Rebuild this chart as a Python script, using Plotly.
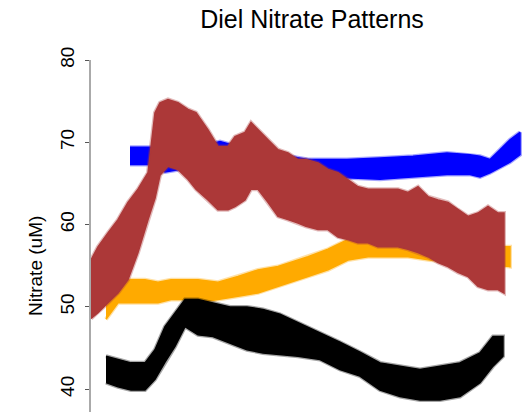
import plotly.graph_objects as go

# time (hours from start of record) and upper/lower envelope of each noisy series (uM)
brown_t = [0, 0.7, 1.7, 2.7, 3.7, 4.7, 5.7, 6.4, 6.9, 7.7, 8.7, 9.7, 10.5, 11.7, 12.7, 13.7,
           14.4, 15.4, 16.0, 16.7, 17.7, 18.7, 19.7, 20.7, 21.5, 22.7, 23.7, 24.7, 25.7, 26.7,
           27.7, 28.7, 29.7, 30.7, 31.7, 32.7, 33.7, 34.7, 35.7, 36.7, 37.7, 38.7, 39.7, 40.7, 41.3]
brown_hi = [55.7, 57.3, 59.0, 60.6, 62.7, 64.3, 66.3, 73.6, 74.8, 75.2, 74.8, 74.0, 73.6, 71.5, 69.5, 69.5,
            70.7, 71.2, 72.4, 71.5, 70.3, 69.1, 68.7, 67.9, 67.9, 67.5, 66.7, 66.3, 65.5, 64.6,
            64.3, 64.3, 64.3, 64.3, 63.9, 64.6, 63.4, 63.0, 62.7, 61.8, 61.0, 61.4, 62.2, 61.4, 61.4]
brown_lo = [48.6, 49.3, 50.5, 51.7, 53.3, 56.6, 60.6, 63.2, 66.0, 67.1, 66.7, 65.5, 64.3, 63.0, 61.8, 61.8,
            62.2, 63.0, 64.3, 64.3, 62.7, 61.0, 60.6, 60.2, 59.8, 59.4, 59.4, 58.5, 58.2, 57.8,
            57.8, 57.3, 57.3, 57.3, 57.0, 56.6, 56.1, 55.4, 54.9, 54.2, 53.7, 52.5, 52.1, 52.1, 51.7]

black_t = [1.5, 2.7, 4.0, 5.4, 6.4, 7.4, 8.4, 9.4, 10.7, 12.2, 13.9, 15.6, 17.2, 18.9, 20.7, 22.9,
           24.9, 26.9, 28.9, 30.9, 32.9, 34.9, 36.9, 38.9, 40.2, 41.2]
black_hi = [44.0, 43.6, 43.2, 43.2, 44.8, 47.6, 49.3, 50.9, 50.9, 50.5, 50.0, 50.0, 49.7, 49.1, 48.1, 46.9,
            45.7, 44.5, 43.2, 42.8, 42.4, 42.8, 43.2, 44.4, 46.4, 46.4]
black_lo = [40.8, 40.3, 39.9, 39.9, 41.2, 43.3, 45.2, 47.6, 46.6, 46.4, 45.6, 44.8, 44.4, 44.2, 44.0, 43.6,
            42.4, 41.6, 39.9, 39.1, 38.7, 38.7, 39.1, 40.8, 42.8, 44.0]

orange_t = [1.5, 2.7, 4.0, 5.4, 6.7, 8.0, 9.7, 10.7, 12.7, 14.7, 16.7, 18.7, 20.7, 21.7, 23.7, 25.7,
            27.7, 29.7, 31.7, 33.9, 36.9, 39.9, 41.9]
orange_hi = [50.9, 53.0, 53.3, 53.3, 53.0, 53.3, 53.3, 53.3, 53.0, 53.7, 54.5, 54.9, 55.7, 56.1, 57.0, 58.2,
             58.2, 58.2, 58.2, 57.8, 57.6, 57.3, 57.3]
orange_lo = [48.5, 50.5, 50.5, 50.5, 50.5, 50.9, 50.9, 50.5, 50.9, 51.3, 51.7, 52.5, 53.3, 53.7, 54.5, 55.7,
             56.1, 56.1, 56.1, 55.7, 55.4, 55.1, 54.9]

blue_t = [3.9, 5.9, 7.4, 9.9, 12.9, 15.9, 18.9, 21.7, 23.9, 25.6, 28.9, 32.2, 35.6, 37.9, 38.9,
          39.9, 40.9, 41.9, 42.9]
blue_hi = [69.4, 69.4, 68.9, 69.1, 70.1, 69.1, 68.5, 67.9, 67.9, 67.9, 68.1, 68.3, 68.7, 68.5, 68.3,
           67.9, 69.1, 70.3, 71.2]
blue_lo = [67.3, 67.3, 66.4, 66.9, 67.9, 66.9, 66.4, 65.8, 65.7, 65.7, 65.5, 65.8, 66.1, 66.1, 65.8,
           66.3, 66.9, 67.6, 68.5]

y_ticks = [40, 50, 60, 70, 80]

fig = go.Figure()


def band(t, hi, lo, color, halo):
    xs = list(t) + list(t)[::-1]
    ys = list(hi) + list(lo)[::-1]
    # soft fringe imitating the ragged noise edge
    fig.add_trace(go.Scatter(x=xs, y=ys, mode="lines",
                             line=dict(color=halo, width=4),
                             hoverinfo="skip", showlegend=False))
    fig.add_trace(go.Scatter(x=xs, y=ys, mode="lines", fill="toself", fillcolor=color,
                             line=dict(color=color, width=1.5),
                             hoverinfo="skip", showlegend=False))


band(blue_t, blue_hi, blue_lo, "#0000FF", "rgba(0,0,255,0.35)")
band(orange_t, orange_hi, orange_lo, "#FFAA00", "rgba(255,170,0,0.35)")
band(black_t, black_hi, black_lo, "#000000", "rgba(0,0,0,0.35)")
band(brown_t, brown_hi, brown_lo, "#AC3838", "rgba(172,56,56,0.35)")

fig.update_layout(
    width=525, height=412,
    margin=dict(l=91, r=0, t=60, b=0),
    paper_bgcolor="white", plot_bgcolor="white",
    font=dict(family="Liberation Sans, Arial, sans-serif", color="black"),
    title=dict(text="Diel Nitrate Patterns", x=312 / 525, xanchor="center",
               y=1 - 19 / 412, yanchor="middle", yref="container",
               font=dict(size=25, color="black")),
    xaxis=dict(visible=False, range=[0, 43.4]),
    yaxis=dict(range=[37.23, 80], tickvals=y_ticks, ticktext=[str(v) for v in y_ticks],
               tickangle=-90, ticks="outside", ticklen=4, tickcolor="#555",
               ticklabelstandoff=3,
               tickfont=dict(size=19, color="black"),
               showline=True, linecolor="#AAAAAA", linewidth=2,
               showgrid=False, zeroline=False),
    annotations=[dict(text="Nitrate (uM)", textangle=-90, xref="paper", yref="paper",
                      x=(35 - 91) / 434, y=(412 - 266) / 352, xanchor="center", yanchor="middle",
                      showarrow=False, font=dict(size=19, color="black"))],
)

fig.write_html("out.html")
